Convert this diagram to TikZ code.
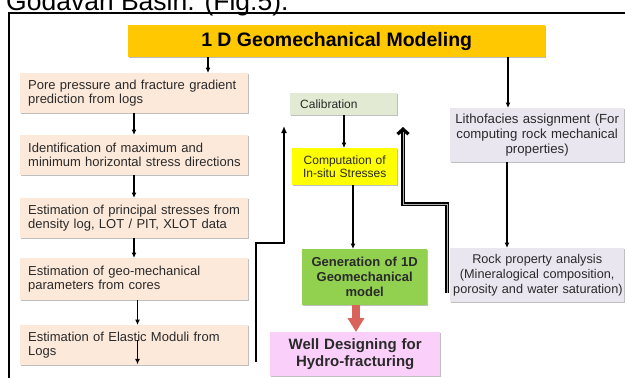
\documentclass[tikz,border=0pt]{standalone}
\usepackage{fontspec}
\setmainfont{Liberation Sans}
\usetikzlibrary{arrows.meta,shadows,calc}
\definecolor{gold}{HTML}{FFC800}
\definecolor{peach}{HTML}{FCE9DA}
\definecolor{calib}{HTML}{E2EAD3}
\definecolor{compy}{HTML}{FFFF00}
\definecolor{greenb}{HTML}{92D050}
\definecolor{pinkb}{HTML}{FAD0FA}
\definecolor{lavb}{HTML}{E9E6F0}
\definecolor{reda}{HTML}{D9625B}
\definecolor{txt}{HTML}{2A2A2A}
\tikzset{
  box/.style={anchor=north west, inner ysep=0pt, draw=none, text=txt,
    drop shadow={shadow xshift=1.2pt, shadow yshift=-1.2pt, opacity=0.25, fill=black}},
  leftbox/.style={box, fill=peach, inner xsep=8pt, text width=212pt, minimum height=40pt,
    align=left, font=\fontsize{13}{14}\selectfont},
  rightbox/.style={box, fill=lavb, inner xsep=3pt, text width=168pt, minimum height=54pt,
    align=center, font=\fontsize{13.2}{15}\selectfont},
  arr/.style={line width=1.5pt, -{Latex[length=5.5pt,width=5pt]}},
}
\begin{document}
\begin{tikzpicture}[x=1pt,y=-1pt]
\useasboundingbox (0,0) rectangle (625,378);
\clip (0,0) rectangle (625,378);

% heading text partly cut off
\node[anchor=base west, inner sep=0pt, font=\fontsize{26.5}{30}\selectfont] (head) at (6,10) {Godavari Basin. (Fig.5).};

% frame
\draw[line width=2pt] (9,395) -- (9,13) -- (640,13);

% title
\node[box, fill=gold, text=black, minimum width=417pt, minimum height=32pt, inner xsep=0pt,
  font=\fontsize{19.5}{22}\selectfont\bfseries] (title) at (128,25) {1 D Geomechanical Modeling};

% left column
\node[leftbox] (p1) at (20,73) {\mbox{Pore pressure and fracture gradient}\\\mbox{prediction from logs}};
\node[leftbox] (p2) at (20,135) {\mbox{Identification of maximum and}\\\mbox{minimum horizontal stress directions}};
\node[leftbox] (p3) at (20,198) {\mbox{Estimation of principal stresses from}\\\mbox{density log, LOT / PIT, XLOT data}};
\node[leftbox, minimum height=42pt] (p4) at (20,258) {\mbox{Estimation of geo-mechanical}\\\mbox{parameters from cores}};
\node[leftbox] (p5) at (20,325) {\mbox{Estimation of Elastic Moduli from}\\\mbox{Logs}};

% middle column
\node[box, fill=calib, inner xsep=10pt, text width=87pt, minimum height=22pt, align=left,
  font=\fontsize{12}{13}\selectfont] (cal) at (290,93) {Calibration};
\node[box, fill=compy, inner xsep=3pt, text width=99pt, minimum height=37pt, align=center,
  font=\fontsize{12}{13.6}\selectfont] (comp) at (292,148) {\mbox{Computation of}\\\mbox{In-situ Stresses}};
\node[box, fill=greenb, inner xsep=3pt, text width=119pt, minimum height=56pt, align=center,
  font=\fontsize{13}{15}\selectfont\bfseries] (gen) at (302,249) {\mbox{Generation of 1D}\\\mbox{Geomechanical}\\\mbox{model}};
\node[box, fill=pinkb, inner xsep=3pt, text width=164pt, minimum height=44pt, align=center,
  font=\fontsize{15}{16.7}\selectfont\bfseries] (well) at (270,332) {\mbox{Well Designing for}\\\mbox{Hydro-fracturing}};

% right column
\node[rightbox] (litho) at (450,108) {\mbox{Lithofacies assignment (For}\\\mbox{computing rock mechanical}\\\mbox{properties)}};
\node[rightbox, font=\fontsize{12.7}{15}\selectfont] (rock) at (450,248) {\mbox{Rock property analysis}\\\mbox{(Mineralogical composition,}\\\mbox{porosity and water saturation)}};

% guide coordinates
\coordinate (xa) at (208,0);
\coordinate (xb) at (134,0);
\coordinate (xc) at (137.5,0);
\coordinate (xd) at (344,0);
\coordinate (xe) at (353,0);
\coordinate (xf) at (356,0);
\coordinate (xg) at (508,0);
\coordinate (xh) at (507,0);

% connectors
\draw[arr] (title.south -| xa) -- (p1.north -| xa);
\draw[arr] (p1.south -| xb) -- (p2.north -| xb);
\draw[arr] (p2.south -| xb) -- (p3.north -| xb);
\draw[arr] (p3.south -| xb) -- (p4.north -| xb);
\draw[arr] (p4.south -| xc) -- (p5.north -| xc);
\draw[arr] ($(p5.north -| xc)+(0,15)$) -- ($(p5.south -| xc)+(0,-1)$);
\draw[arr] (cal.south -| xd) -- (comp.north -| xd);
\draw[arr] (comp.south -| xe) -- (gen.north -| xe);
\draw[line width=8pt, reda, -{Triangle[length=14pt,width=16pt]}] (gen.south -| xf) -- (well.north -| xf);
\draw[arr] (title.south -| xg) -- (litho.north -| xg);
\draw[arr] (litho.south -| xh) -- (rock.north -| xh);

% feedback lines
\coordinate (lf) at (255.5,362);
\coordinate (lc) at (284,243);
\coordinate (lt) at (284,126);
\draw[line width=2pt, -{Latex[length=7pt,width=6pt]}] (lf) |- (lc) -- (lt);

\coordinate (rf) at (447,293);
\coordinate (rc) at (403,204);
\coordinate (rt) at (403,127);
\draw[line width=3.2pt, -{Straight Barb[length=5pt,width=11pt]}] (rf) |- (rc) -- (rt);
\draw[line width=1pt, white!70!black, shorten >=5pt] ($(rf)+(0,-0.5)$) |- (rc) -- (rt);
\end{tikzpicture}
\end{document}
